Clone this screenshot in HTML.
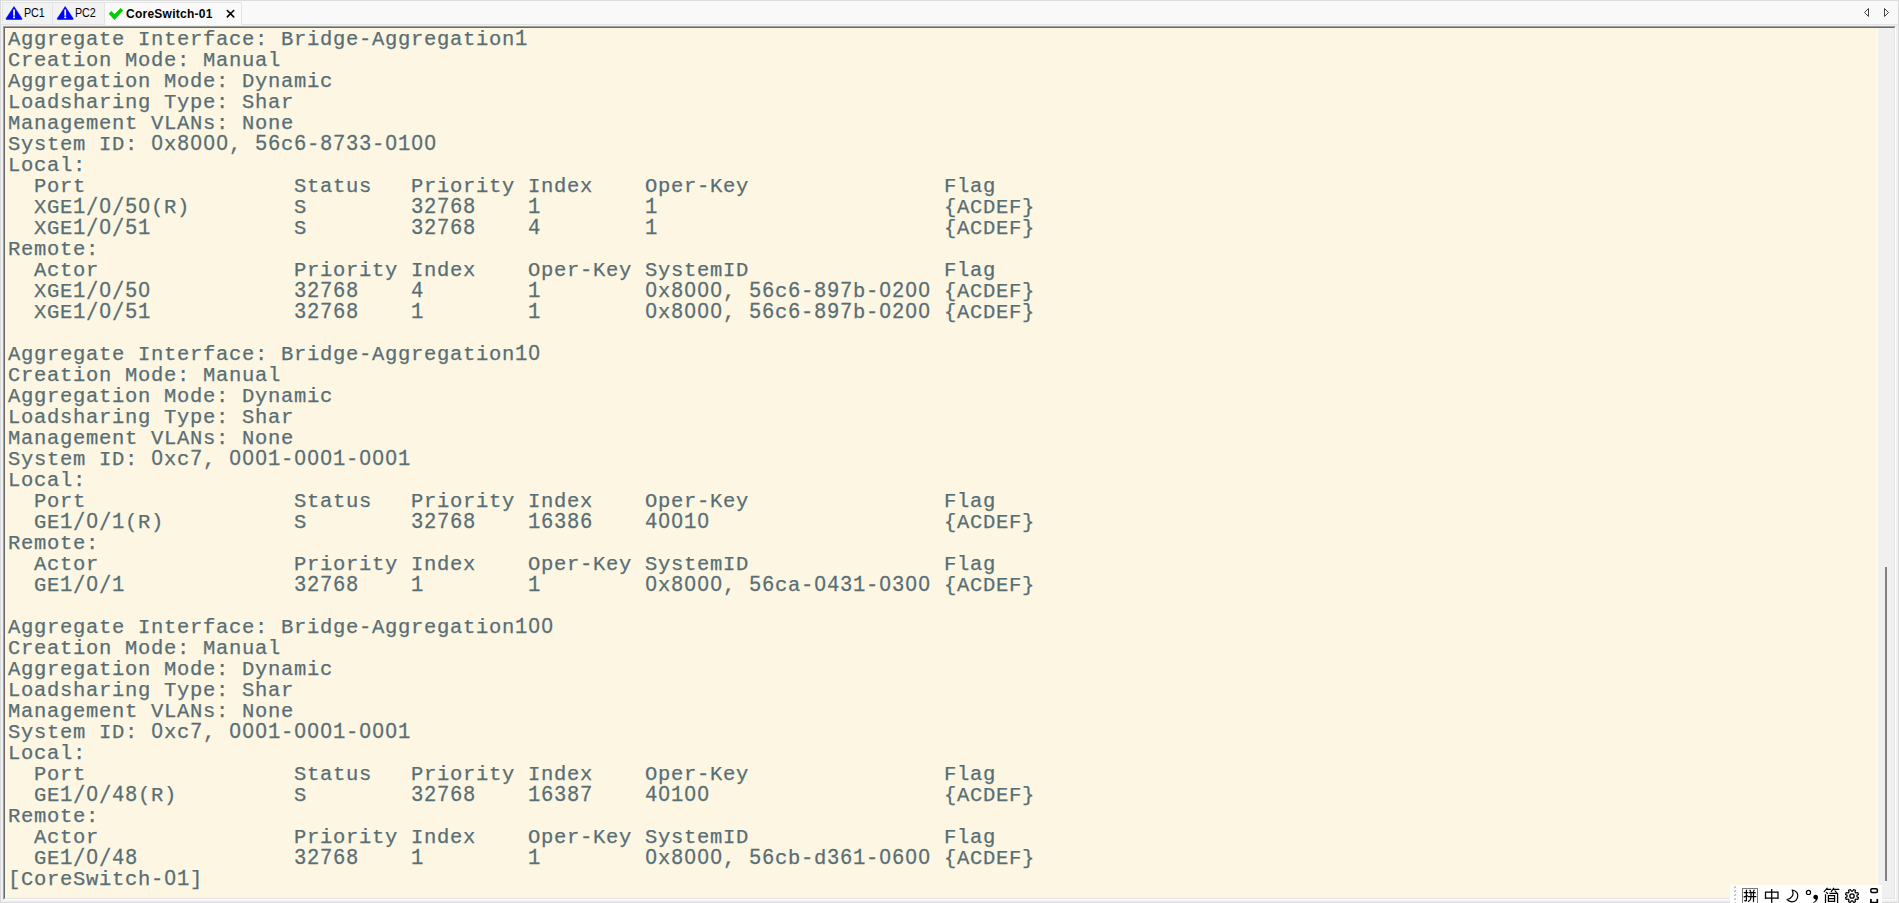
<!DOCTYPE html>
<html><head><meta charset="utf-8"><title>CoreSwitch-01</title>
<style>
html,body{margin:0;padding:0;}
body{width:1899px;height:903px;overflow:hidden;position:relative;background:#f0f0f0;font-family:"Liberation Sans",sans-serif;}
.abs{position:absolute;}
#frame{left:0;top:0;width:1897px;height:901px;border:1px solid #d9d9d9;border-top-color:#dcdcdc;}
#tabbar{left:1px;top:1px;width:1897px;height:23px;background:#f9f9f9;}
#tabline{left:1px;top:24px;width:1897px;height:1px;background:#e4e4e4;}
.tab{top:2px;height:22px;background:#f2f2f2;border:1px solid #e4e4e4;border-bottom:none;box-sizing:border-box;}
.tl{top:6px;font-size:12px;line-height:14px;color:#000;white-space:nowrap;transform-origin:0 0;transform:scaleX(0.89);}
.tb{font-weight:bold;color:#000;transform:none;letter-spacing:0.25px;}
#t3{background:#fafafa;height:23px;}
#termo{left:3px;top:26px;width:1893px;height:874px;border-style:solid;border-width:1px;border-color:#a0a0a0 #fff #fff #a0a0a0;box-sizing:border-box;}
#term{left:4px;top:27px;width:1891px;height:872px;border-style:solid;border-width:1px;border-color:#696969 #e3e3e3 #e3e3e3 #696969;box-sizing:border-box;background:#fdf6e3;}
#sb{left:1877px;top:28px;width:17px;height:870px;background:#f0f0f0;border-left:1px solid #fbfbfb;box-sizing:border-box;}
#thumb{left:1885px;top:567px;width:2px;height:314px;background:#818181;}
pre{margin:0;position:absolute;left:8px;top:29px;-webkit-text-stroke:0.25px #586e75;font-family:"Liberation Mono",monospace;font-size:20.5px;line-height:21px;letter-spacing:0.6980px;color:#586e75;white-space:pre;}
.d{display:inline-block;transform:scaleY(1.07);transform-origin:0 15.96px;}
.s{display:inline-block;transform:scaleY(1.2);transform-origin:0 5.96px;}
.z{position:relative;}
.z::after{content:"";position:absolute;left:3.9px;top:7.3px;width:4.5px;height:5.8px;border-radius:2px;background:#fdf6e3;}
#ime{left:1730px;top:885px;width:152px;height:18px;background:#fff;overflow:hidden;}
</style></head><body>
<div class="abs" id="tabbar"></div>
<div class="abs" id="tabline"></div>
<div class="abs tab" id="t1" style="left:2px;width:51px;"></div>
<div class="abs tab" id="t2" style="left:52px;width:53px;"></div>
<div class="abs tab" id="t3" style="left:104px;width:138px;"></div>
<svg class="abs" style="left:0;top:0" width="260" height="26" viewBox="0 0 260 26">
<g id="tri"><path d="M14 6.6 L21.9 18.5 Q22.3 19.4 21.3 19.4 L6.7 19.4 Q5.7 19.4 6.1 18.5 Z" fill="#0000ff" stroke="#0000ff" stroke-width="0.6" stroke-linejoin="round"/><rect x="13.2" y="9.5" width="1.7" height="6.2" fill="#fff"/><rect x="13.2" y="15.7" width="1.7" height="1.2" fill="#9a9aff"/><rect x="13.1" y="16.9" width="1.9" height="1.3" fill="#fff"/></g>
<use href="#tri" x="51.2" y="0"/>
<path d="M108.75 13.8 L111.4 11 L114.5 14.2 L120.6 8 L123.1 10.5 L114.5 20 Z" fill="#00cc00"/>
<path d="M227.3 10.5 L233.7 16.9 M233.7 10.5 L227.3 16.9" stroke="#000" stroke-width="1.6" stroke-linecap="round" fill="none"/>
</svg>
<span class="abs tl" style="left:24px;">PC1</span>
<span class="abs tl" style="left:75.2px;">PC2</span>
<span class="abs tl tb" style="left:126px;top:7px;">CoreSwitch-01</span>
<svg class="abs" style="left:1860px;top:5px" width="34" height="16" viewBox="0 0 34 16"><path d="M8.5 3.5 L8.5 11.5 L4.5 7.5 Z M24.5 3.5 L24.5 11.5 L28.5 7.5 Z" fill="none" stroke="#404040" stroke-width="1"/></svg>
<div class="abs" id="term"></div>
<div class="abs" id="termo"></div>
<div class="abs" id="sb"></div>
<div class="abs" id="thumb"></div>
<pre>Aggregate Interface: Bridge-Aggregation<span class="d">1</span>
Creation Mode: Manual
Aggregation Mode: Dynamic
Loadsharing Type: Shar
Management VLANs: None
System ID: <span class="d"><span class="z">0</span></span>x<span class="d">8<span class="z">0</span><span class="z">0</span><span class="z">0</span></span>, <span class="d">56</span>c<span class="d">6</span>-<span class="d">8733</span>-<span class="d"><span class="z">0</span>1<span class="z">0</span><span class="z">0</span></span>
Local:
  Port                Status   Priority Index    Oper-Key               Flag
  XGE<span class="d">1</span><span class="s">/</span><span class="d"><span class="z">0</span></span><span class="s">/</span><span class="d">5<span class="z">0</span></span>(R)        S        <span class="d">32768</span>    <span class="d">1</span>        <span class="d">1</span>                      {ACDEF}
  XGE<span class="d">1</span><span class="s">/</span><span class="d"><span class="z">0</span></span><span class="s">/</span><span class="d">51</span>           S        <span class="d">32768</span>    <span class="d">4</span>        <span class="d">1</span>                      {ACDEF}
Remote:
  Actor               Priority Index    Oper-Key SystemID               Flag
  XGE<span class="d">1</span><span class="s">/</span><span class="d"><span class="z">0</span></span><span class="s">/</span><span class="d">5<span class="z">0</span></span>           <span class="d">32768</span>    <span class="d">4</span>        <span class="d">1</span>        <span class="d"><span class="z">0</span></span>x<span class="d">8<span class="z">0</span><span class="z">0</span><span class="z">0</span></span>, <span class="d">56</span>c<span class="d">6</span>-<span class="d">897</span>b-<span class="d"><span class="z">0</span>2<span class="z">0</span><span class="z">0</span></span> {ACDEF}
  XGE<span class="d">1</span><span class="s">/</span><span class="d"><span class="z">0</span></span><span class="s">/</span><span class="d">51</span>           <span class="d">32768</span>    <span class="d">1</span>        <span class="d">1</span>        <span class="d"><span class="z">0</span></span>x<span class="d">8<span class="z">0</span><span class="z">0</span><span class="z">0</span></span>, <span class="d">56</span>c<span class="d">6</span>-<span class="d">897</span>b-<span class="d"><span class="z">0</span>2<span class="z">0</span><span class="z">0</span></span> {ACDEF}

Aggregate Interface: Bridge-Aggregation<span class="d">1<span class="z">0</span></span>
Creation Mode: Manual
Aggregation Mode: Dynamic
Loadsharing Type: Shar
Management VLANs: None
System ID: <span class="d"><span class="z">0</span></span>xc<span class="d">7</span>, <span class="d"><span class="z">0</span><span class="z">0</span><span class="z">0</span>1</span>-<span class="d"><span class="z">0</span><span class="z">0</span><span class="z">0</span>1</span>-<span class="d"><span class="z">0</span><span class="z">0</span><span class="z">0</span>1</span>
Local:
  Port                Status   Priority Index    Oper-Key               Flag
  GE<span class="d">1</span><span class="s">/</span><span class="d"><span class="z">0</span></span><span class="s">/</span><span class="d">1</span>(R)          S        <span class="d">32768</span>    <span class="d">16386</span>    <span class="d">4<span class="z">0</span><span class="z">0</span>1<span class="z">0</span></span>                  {ACDEF}
Remote:
  Actor               Priority Index    Oper-Key SystemID               Flag
  GE<span class="d">1</span><span class="s">/</span><span class="d"><span class="z">0</span></span><span class="s">/</span><span class="d">1</span>             <span class="d">32768</span>    <span class="d">1</span>        <span class="d">1</span>        <span class="d"><span class="z">0</span></span>x<span class="d">8<span class="z">0</span><span class="z">0</span><span class="z">0</span></span>, <span class="d">56</span>ca-<span class="d"><span class="z">0</span>431</span>-<span class="d"><span class="z">0</span>3<span class="z">0</span><span class="z">0</span></span> {ACDEF}

Aggregate Interface: Bridge-Aggregation<span class="d">1<span class="z">0</span><span class="z">0</span></span>
Creation Mode: Manual
Aggregation Mode: Dynamic
Loadsharing Type: Shar
Management VLANs: None
System ID: <span class="d"><span class="z">0</span></span>xc<span class="d">7</span>, <span class="d"><span class="z">0</span><span class="z">0</span><span class="z">0</span>1</span>-<span class="d"><span class="z">0</span><span class="z">0</span><span class="z">0</span>1</span>-<span class="d"><span class="z">0</span><span class="z">0</span><span class="z">0</span>1</span>
Local:
  Port                Status   Priority Index    Oper-Key               Flag
  GE<span class="d">1</span><span class="s">/</span><span class="d"><span class="z">0</span></span><span class="s">/</span><span class="d">48</span>(R)         S        <span class="d">32768</span>    <span class="d">16387</span>    <span class="d">4<span class="z">0</span>1<span class="z">0</span><span class="z">0</span></span>                  {ACDEF}
Remote:
  Actor               Priority Index    Oper-Key SystemID               Flag
  GE<span class="d">1</span><span class="s">/</span><span class="d"><span class="z">0</span></span><span class="s">/</span><span class="d">48</span>            <span class="d">32768</span>    <span class="d">1</span>        <span class="d">1</span>        <span class="d"><span class="z">0</span></span>x<span class="d">8<span class="z">0</span><span class="z">0</span><span class="z">0</span></span>, <span class="d">56</span>cb-d<span class="d">361</span>-<span class="d"><span class="z">0</span>6<span class="z">0</span><span class="z">0</span></span> {ACDEF}
[CoreSwitch-<span class="d"><span class="z">0</span>1</span>]</pre>
<div class="abs" id="frame"></div>
<svg class="abs" style="left:1730px;top:885px" width="152" height="18" viewBox="1730 885 152 18">
<rect x="1730" y="885" width="152" height="18" fill="#fff"/>
<g stroke="#a6a6a6" stroke-width="1.2" stroke-linecap="butt" fill="none"><path d="M1734.3 887.9 L1735.9 886.3 M1734.3 891.9 L1735.9 890.3 M1734.3 895.9 L1735.9 894.3 M1734.3 899.9 L1735.9 898.3 M1734.3 903.9 L1735.9 902.3"/></g>
<rect x="1742.5" y="888.5" width="15" height="16" fill="none" stroke="#7a7a7a" stroke-width="1"/>
<g stroke="#000" stroke-width="1.25" fill="none" stroke-linecap="round" stroke-linejoin="round">
<!-- pin -->
<path d="M1744.2 892.5 L1747.7 892.5 M1746.4 890.2 L1746.4 900.4 Q1746.3 901.2 1744.7 900.6 M1744.1 896.9 L1747.6 895.9"/>
<path d="M1749.9 890.2 L1750.7 891.3 M1754.2 890.2 L1753.4 891.3 M1749.2 892.7 L1755.1 892.7 M1748.4 896.6 L1755.9 896.6 M1751 892.7 L1751 897.5 Q1750.8 900.2 1748.5 901.4 M1753.5 892.7 L1753.5 901.6"/>
<!-- zhong -->
<path d="M1765.5 899 L1765.5 892.2 L1778 892.2 L1778 899 M1765.5 898 L1778 898 M1771.7 889 L1771.7 904" stroke-width="1.25" stroke-linecap="butt" stroke-linejoin="miter"/>
<!-- moon -->
<path d="M1792.2 890 C1796.5 890.8 1798.3 893.6 1797.7 896.6 C1797 900 1794.5 901.8 1792 901.8 C1789.8 901.8 1788.2 900.8 1787 899.5 C1790.5 899.2 1794.8 895.5 1792.2 890 Z" stroke-width="1.2"/>
<!-- degree -->
<circle cx="1808.5" cy="892.4" r="2.1" stroke-width="1.15"/>
<!-- jian -->
<path d="M1827.2 888.2 L1824.2 891.6 M1827 889.3 L1830.8 889.3 M1826.3 892.3 L1827.6 893.5 M1833.6 888.2 L1831.3 891.6 M1833.4 889.3 L1838.9 889.3 M1835.1 890.8 L1836.4 892.3" stroke-width="1.15"/>
<path d="M1825.5 894.3 L1825.5 904 M1829.4 893.4 L1837.6 893.4 L1837.6 904 M1828.4 895.5 L1834.6 895.5 L1834.6 901.4 L1828.4 901.4 Z M1828.4 898.5 L1834.6 898.5" stroke-width="1.25" stroke-linecap="butt" stroke-linejoin="miter"/>
<!-- gear -->
<path d="M1852.74 891.06 L1853.62 889.50 L1855.46 890.26 L1854.97 891.98 L1856.02 893.03 L1857.74 892.54 L1858.50 894.38 L1856.94 895.26 L1856.94 896.74 L1858.50 897.62 L1857.74 899.46 L1856.02 898.97 L1854.97 900.02 L1855.46 901.74 L1853.62 902.50 L1852.74 900.94 L1851.26 900.94 L1850.38 902.50 L1848.54 901.74 L1849.03 900.02 L1847.98 898.97 L1846.26 899.46 L1845.50 897.62 L1847.06 896.74 L1847.06 895.26 L1845.50 894.38 L1846.26 892.54 L1847.98 893.03 L1849.03 891.98 L1848.54 890.26 L1850.38 889.50 L1851.26 891.06 Z" stroke-width="1.2"/>
<circle cx="1852" cy="896" r="2.2" stroke-width="1.3"/>
<!-- last -->
<rect x="1870.8" y="888.8" width="6.6" height="3.7" rx="1.2" stroke-width="1.5"/>
<path d="M1870.9 899 L1870.9 902.7 L1877.3 902.7 L1877.3 899" stroke-width="1.7" stroke-linecap="butt" stroke-linejoin="miter"/>
</g>
<!-- comma -->
<path d="M1815.6 894.7 C1817.2 894.7 1818 895.9 1818 897.2 C1818 899.6 1816.3 901.8 1813.4 903.2 L1813 902.6 C1814.8 901.4 1815.6 900.3 1815.7 899.4 C1814.2 899.4 1813.3 898.4 1813.3 897.1 C1813.3 895.7 1814.3 894.7 1815.6 894.7 Z" fill="#000"/>
</svg>
</body></html>
